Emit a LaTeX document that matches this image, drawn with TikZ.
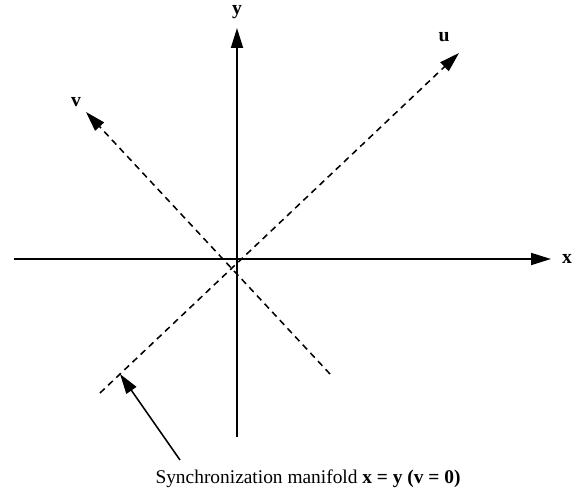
\documentclass[tikz,border=0pt]{standalone}
\usepackage{fontspec}
\setmainfont{Liberation Serif}
\usepackage{tikz}
\usetikzlibrary{arrows.meta, positioning}
\tikzset{
  axis/.style={line width=1.3pt, -{Triangle[length=0.5cm, width=0.3cm]}},
  diag/.style={line width=1.1pt, dash pattern=on 0.16cm off 0.12cm, -{Triangle[length=0.5cm, width=0.3cm]}},
  pointer/.style={line width=1.1pt, -{Triangle[length=0.5cm, width=0.3cm]}},
  lbl/.style={font=\fontsize{14}{16}\selectfont\bfseries, inner sep=0pt},
  caption/.style={font=\fontsize{13.8}{16}\selectfont, inner sep=0pt}
}

\begin{document}
\begin{tikzpicture}
  \useasboundingbox (-5.925,-5.825) rectangle (8.55,6.475);
  % ends of the axes
  \coordinate (O) at (0,0);
  \coordinate (xl) at (-5.575,0);
  \coordinate (xr) at (7.85,0);
  \coordinate (yb) at (0,-4.45);
  \coordinate (yt) at (0,5.775);
  % ends of the rotated axes
  \coordinate (ub) at (-3.425,-3.35);
  \coordinate (ut) at (5.55,5.15);
  \coordinate (vb) at (2.325,-2.875);
  \coordinate (vt) at (-3.775,3.675);
  % labels
  \node[lbl] (xlab) at (8.25,0) {x};
  \node[lbl] (ylab) at (0,6.175) {y};
  \node[lbl] (ulab) at (5.175,5.55) {u};
  \node[lbl] (vlab) at (-4.025,3.925) {v};
  \coordinate (mtip) at (-2.925,-2.875);
  \node[caption, anchor=base] (cap) at (1.775,-5.62)
    {Synchronization manifold \textbf{x = y (v = 0)}};
  \coordinate (mfoot) at (-1.425,-5.025);
  % axes
  \draw[axis] (xl) -- (xr);
  \draw[axis] (yb) -- (yt);
  \draw[diag] (ub) -- (ut);
  \draw[diag] (vb) -- (vt);
  \draw[pointer] (mfoot) -- (mtip);
\end{tikzpicture}
\end{document}
